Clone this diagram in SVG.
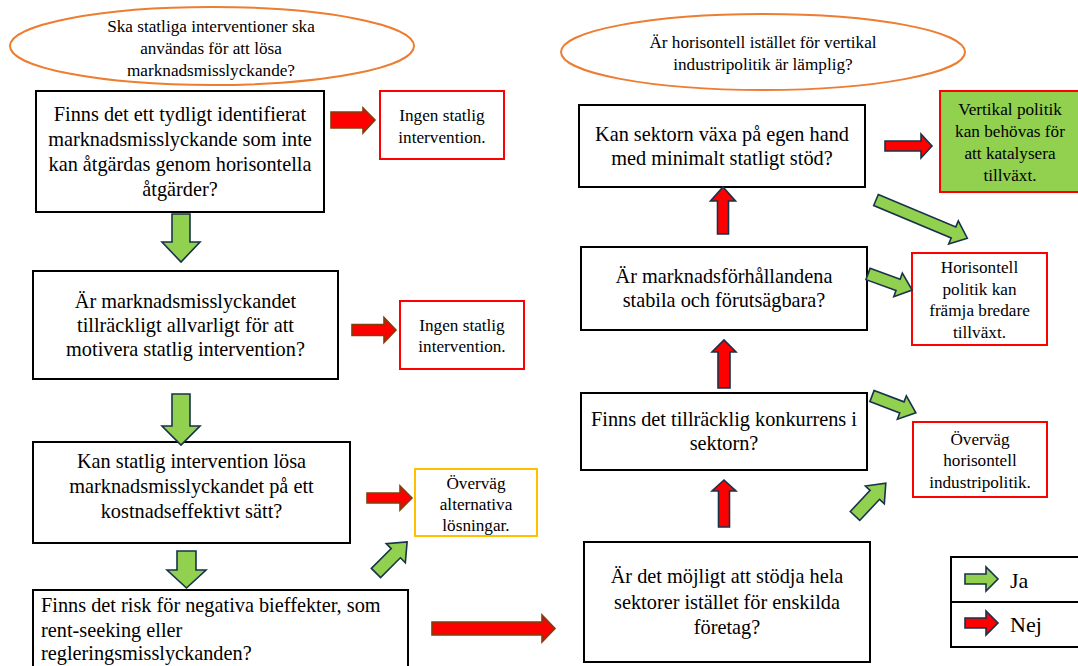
<svg xmlns="http://www.w3.org/2000/svg" width="1078" height="666" viewBox="0 0 1078 666" font-family="'Liberation Serif', 'DejaVu Serif', serif">
  <style>
    text { font-family: 'Liberation Serif', 'DejaVu Serif', serif; fill: #000; }
    .big { font-size: 20.3px; }
    .small { font-size: 17.2px; }
    .legend { font-size: 22px; }
    .c { text-anchor: middle; }
    .box { fill: #fff; stroke: #000; stroke-width: 2; }
    .oval { fill: #fff; stroke: #ED7D31; stroke-width: 2; }
    .redbox { fill: #fff; stroke: #FF0000; stroke-width: 2; }
    .goldbox { fill: #fff; stroke: #FFC000; stroke-width: 2; }
    .greenbox { fill: #92D050; stroke: #FF0000; stroke-width: 2; }
    .yes { fill: #92D050; stroke: #17324A; stroke-width: 1.6; stroke-linejoin: miter; }
    .no { fill: #FF0000; stroke: #843C0C; stroke-width: 1.6; stroke-linejoin: miter; }
    .no2 { fill: #FF0000; stroke: #17324A; stroke-width: 1.6; stroke-linejoin: miter; }
  </style>

  <!-- left column: should state intervention be used -->
  <g id="q-left-title">
    <ellipse class="oval" cx="212" cy="46" rx="202" ry="39"/>
    <text class="small c" x="211" y="32">Ska statliga interventioner ska</text>
    <text class="small c" x="211" y="54">användas för att lösa</text>
    <text class="small c" x="211" y="76">marknadsmisslyckande?</text>
  </g>

  <g id="q1">
    <rect class="box" x="36" y="91" width="288" height="121"/>
    <text class="big c" x="180" y="121">Finns det ett tydligt identifierat</text>
    <text class="big c" x="180" y="146">marknadsmisslyckande som inte</text>
    <text class="big c" x="180" y="171">kan åtgärdas genom horisontella</text>
    <text class="big c" x="180" y="196">åtgärder?</text>
  </g>

  <g id="r1">
    <rect class="redbox" x="380" y="91" width="124" height="68"/>
    <text class="small c" x="442" y="121">Ingen statlig</text>
    <text class="small c" x="442" y="143">intervention.</text>
  </g>

  <g id="q2">
    <rect class="box" x="33" y="271" width="305" height="108"/>
    <text class="big c" x="185.5" y="308">Är marknadsmisslyckandet</text>
    <text class="big c" x="185.5" y="332">tillräckligt allvarligt för att</text>
    <text class="big c" x="185.5" y="356">motivera statlig intervention?</text>
  </g>

  <g id="r2">
    <rect class="redbox" x="400" y="301" width="124" height="68"/>
    <text class="small c" x="462" y="331">Ingen statlig</text>
    <text class="small c" x="462" y="352">intervention.</text>
  </g>

  <g id="q3">
    <rect class="box" x="33" y="442" width="317" height="101"/>
    <text class="big c" x="191.5" y="468">Kan statlig intervention lösa</text>
    <text class="big c" x="191.5" y="493">marknadsmisslyckandet på ett</text>
    <text class="big c" x="191.5" y="518">kostnadseffektivt sätt?</text>
  </g>

  <g id="r3">
    <rect class="goldbox" x="415" y="469" width="122" height="67"/>
    <text class="small c" x="476" y="489">Överväg</text>
    <text class="small c" x="476" y="510">alternativa</text>
    <text class="small c" x="476" y="531">lösningar.</text>
  </g>

  <g id="q4">
    <rect class="box" x="33" y="590" width="375" height="90"/>
    <text class="big" x="41" y="612">Finns det risk för negativa bieffekter, som</text>
    <text class="big" x="41" y="637">rent-seeking eller</text>
    <text class="big" x="41" y="660">regleringsmisslyckanden?</text>
  </g>

  <!-- right column: horizontal versus vertical policy -->
  <g id="q-right-title">
    <ellipse class="oval" cx="763" cy="52" rx="202" ry="38"/>
    <text class="small c" x="763" y="48">Är horisontell istället för vertikal</text>
    <text class="small c" x="763" y="70">industripolitik är lämplig?</text>
  </g>

  <g id="p1">
    <rect class="box" x="579" y="105" width="286" height="82"/>
    <text class="big c" x="722" y="141">Kan sektorn växa på egen hand</text>
    <text class="big c" x="722" y="165">med minimalt statligt stöd?</text>
  </g>

  <g id="o1">
    <rect class="greenbox" x="940" y="91" width="142" height="101"/>
    <text class="small c" x="1010" y="115">Vertikal politik</text>
    <text class="small c" x="1010" y="137">kan behövas för</text>
    <text class="small c" x="1010" y="159">att katalysera</text>
    <text class="small c" x="1010" y="181">tillväxt.</text>
  </g>

  <g id="p2">
    <rect class="box" x="581" y="247" width="286" height="83"/>
    <text class="big c" x="724" y="283">Är marknadsförhållandena</text>
    <text class="big c" x="724" y="307">stabila och förutsägbara?</text>
  </g>

  <g id="o2">
    <rect class="redbox" x="912" y="253" width="135" height="92"/>
    <text class="small c" x="979.5" y="273">Horisontell</text>
    <text class="small c" x="979.5" y="295">politik kan</text>
    <text class="small c" x="979.5" y="316">främja bredare</text>
    <text class="small c" x="979.5" y="338">tillväxt.</text>
  </g>

  <g id="p3">
    <rect class="box" x="581" y="393" width="286" height="77"/>
    <text class="big c" x="724" y="426">Finns det tillräcklig konkurrens i</text>
    <text class="big c" x="724" y="450">sektorn?</text>
  </g>

  <g id="o3">
    <rect class="redbox" x="913" y="422" width="134" height="75"/>
    <text class="small c" x="980" y="445">Överväg</text>
    <text class="small c" x="980" y="466">horisontell</text>
    <text class="small c" x="980" y="488">industripolitik.</text>
  </g>

  <g id="p4">
    <rect class="box" x="584" y="542" width="286" height="120"/>
    <text class="big c" x="727" y="583">Är det möjligt att stödja hela</text>
    <text class="big c" x="727" y="609">sektorer istället för enskilda</text>
    <text class="big c" x="727" y="634">företag?</text>
  </g>

  <g id="legend">
    <rect class="box" x="951" y="557" width="140" height="90"/>
    <line x1="951" y1="602" x2="1091" y2="602" stroke="#000" stroke-width="2"/>
    <polygon class="yes" points="965,574 986,574 986,567 998,579 986,591 986,584 965,584"/>
    <text class="legend" x="1010" y="588">Ja</text>
    <polygon class="no2" points="965,618 986,618 986,611 998,623 986,635 986,628 965,628"/>
    <text class="legend" x="1010" y="632">Nej</text>
  </g>

  <!-- block arrows: green = yes, red = no -->
  <g id="connectors">
    <!-- left column -->
    <polygon class="no" points="331,112 363,112 363,108 375,120 363,133 363,128 331,128"/>
    <polygon class="yes" points="172,214 190,214 190,242 200,242 181,262 162,242 172,242"/>
    <polygon class="no" points="352,324.5 384,324.5 384,317.5 396,330 384,342.5 384,335.5 352,335.5"/>
    <polygon class="yes" points="172,394 190,394 190,426 200,426 181,445 162,426 172,426"/>
    <polygon class="no" points="367,493 400,493 400,486 412,498 400,510 400,503 367,503"/>
    <polygon class="yes" points="177,551 196,551 196,570 206,570 186.5,588 167,570 177,570"/>
    <polygon class="yes" transform="translate(376,573) rotate(-45)" points="0,-6.5 28,-6.5 28,-13.5 44,0 28,13.5 28,6.5 0,6.5"/>
    <polygon class="no" points="432,622 542,622 542,615 555,628.5 542,642 542,635 432,635"/>

    <!-- right column -->
    <polygon class="no2" points="885,141 921,141 921,134 932,146 921,158 921,151 885,151"/>
    <polygon class="no2" points="717.5,234 728.5,234 728.5,201 735.5,201 723,187 710.5,201 717.5,201"/>
    <polygon class="no2" points="718,388 730,388 730,352 736,352 724,340 712,352 718,352"/>
    <polygon class="no2" points="718.5,527 729.5,527 729.5,491 736,491 724,480 712,491 718.5,491"/>
    <polygon class="yes" transform="translate(876,200) rotate(22.7)" points="0,-6 84,-6 84,-12.5 99,0 84,12.5 84,6 0,6"/>
    <polygon class="yes" transform="translate(868,274) rotate(20)" points="0,-6 32,-6 32,-12.5 47,0 32,12.5 32,6 0,6"/>
    <polygon class="yes" transform="translate(872,396) rotate(21)" points="0,-6 32,-6 32,-12.5 47,0 32,12.5 32,6 0,6"/>
    <polygon class="yes" transform="translate(855,516) rotate(-46.8)" points="0,-6.5 29,-6.5 29,-13 45,0 29,13 29,6.5 0,6.5"/>
  </g>
</svg>
